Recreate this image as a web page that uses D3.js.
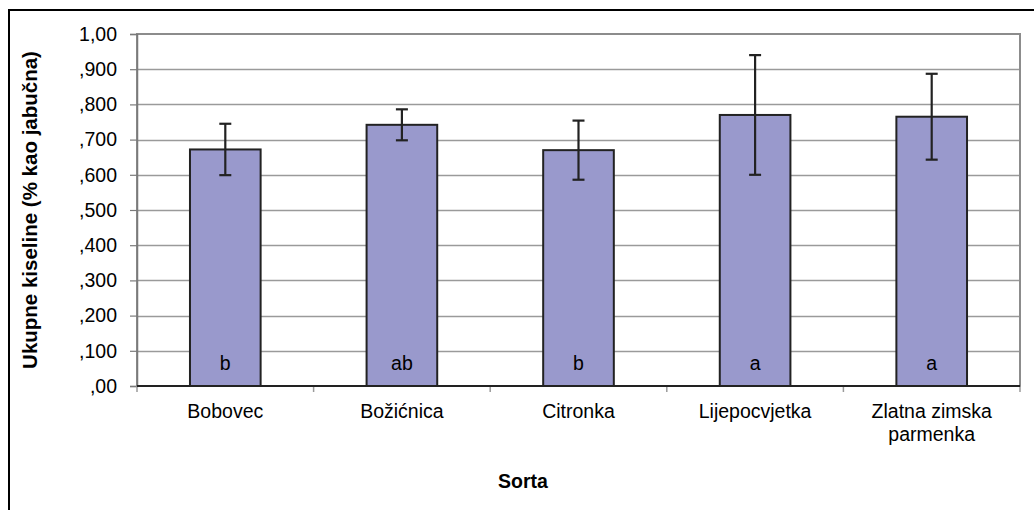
<!DOCTYPE html>
<html>
<head>
<meta charset="utf-8">
<script src="https://cdn.jsdelivr.net/npm/d3@7"></script>
<style>
  html, body { margin: 0; padding: 0; background: #fff; }
  svg { display: block; font-family: Arial, "Liberation Sans", sans-serif; }
</style>
</head>
<body>
<svg id="chart" width="1034" height="510"></svg>
<script>
// Ukupne kiseline po sortama jabuka
const categories = ["Bobovec", "Božićnica", "Citronka", "Lijepocvjetka", "Zlatna zimska parmenka"];
const means = [0.672, 0.742, 0.670, 0.770, 0.765];
const errors = [0.073, 0.044, 0.084, 0.170, 0.122];
const groups = ["b", "ab", "b", "a", "a"];
const yTicks = [0, 0.1, 0.2, 0.3, 0.4, 0.5, 0.6, 0.7, 0.8, 0.9, 1.0];
const yTickLabels = [",00", ",100", ",200", ",300", ",400", ",500", ",600", ",700", ",800", ",900", "1,00"];

const FONT = 19.5;
const svg = d3.select("#chart");
const plot = { left: 137, right: 1020, top: 34, bottom: 386 };

const x = d3.scaleBand().domain(categories).range([plot.left, plot.right]).paddingInner(0.6).paddingOuter(0.3);
const xCat = d3.scaleBand().domain(categories).range([plot.left, plot.right]);
const y = d3.scaleLinear().domain([0, 1]).range([plot.bottom, plot.top]);

// outer chart frame (runs off the right and bottom edge)
svg.append("path")
  .attr("d", `M9,${512} V10 H1040`)
  .attr("fill", "none").attr("stroke", "#000").attr("stroke-width", 2);

// horizontal gridlines
svg.append("g").selectAll("line")
  .data(yTicks.filter(d => d > 0 && d < 1))
  .join("line")
  .attr("x1", plot.left).attr("x2", plot.right)
  .attr("y1", d => Math.round(y(d)) + 0.5).attr("y2", d => Math.round(y(d)) + 0.5)
  .attr("stroke", "#9a9a9a").attr("stroke-width", 1.3);

// plot area border
svg.append("rect")
  .attr("x", plot.left).attr("y", plot.top)
  .attr("width", plot.right - plot.left).attr("height", plot.bottom - plot.top)
  .attr("fill", "none").attr("stroke", "#8c8c8c").attr("stroke-width", 2);

// y axis
const yAxis = d3.axisLeft(y)
  .tickValues(yTicks)
  .tickFormat((d, i) => yTickLabels[i])
  .tickSize(7).tickPadding(13);
const gy = svg.append("g").attr("transform", `translate(${plot.left},0)`).call(yAxis);
gy.select(".domain").attr("stroke", "#7a7a7a").attr("stroke-width", 1.5);
gy.selectAll(".tick line").attr("stroke", "#7a7a7a").attr("stroke-width", 1.2);
gy.selectAll(".tick text").attr("font-size", FONT).attr("fill", "#000").attr("font-family", "Arial, 'Liberation Sans', sans-serif");

// x axis category boundaries
const boundaries = categories.map(c => xCat(c)).concat([plot.right]);
svg.append("g").selectAll("line")
  .data(boundaries).join("line")
  .attr("x1", d => d).attr("x2", d => d)
  .attr("y1", plot.bottom).attr("y2", plot.bottom + 6)
  .attr("stroke", "#9a9a9a").attr("stroke-width", 1.5);

// bars
svg.append("g").selectAll("rect")
  .data(categories).join("rect")
  .attr("x", d => x(d))
  .attr("y", (d, i) => y(means[i]))
  .attr("width", x.bandwidth())
  .attr("height", (d, i) => y(0) - y(means[i]))
  .attr("fill", "#9999cc")
  .attr("stroke", "#222").attr("stroke-width", 2);

// x axis baseline
svg.append("line")
  .attr("x1", plot.left).attr("x2", plot.right)
  .attr("y1", plot.bottom).attr("y2", plot.bottom)
  .attr("stroke", "#222").attr("stroke-width", 2);

// error bars
const eb = svg.append("g").attr("stroke", "#222").attr("stroke-width", 2.2);
categories.forEach((c, i) => {
  const cx = x(c) + x.bandwidth() / 2;
  const hi = y(means[i] + errors[i]), lo = y(means[i] - errors[i]);
  eb.append("line").attr("x1", cx).attr("x2", cx).attr("y1", hi).attr("y2", lo);
  eb.append("line").attr("x1", cx - 6).attr("x2", cx + 6).attr("y1", hi).attr("y2", hi);
  eb.append("line").attr("x1", cx - 6).attr("x2", cx + 6).attr("y1", lo).attr("y2", lo);
});

// significance letters
svg.append("g").selectAll("text")
  .data(categories).join("text")
  .attr("x", d => x(d) + x.bandwidth() / 2)
  .attr("y", 370)
  .attr("text-anchor", "middle")
  .attr("font-size", FONT)
  .text((d, i) => groups[i]);

// category labels (wrapped)
const wrapLines = { "Zlatna zimska parmenka": ["Zlatna zimska", "parmenka"] };
const xl = svg.append("g");
categories.forEach(c => {
  const lines = wrapLines[c] || [c];
  const t = xl.append("text")
    .attr("x", x(c) + x.bandwidth() / 2)
    .attr("y", 418)
    .attr("text-anchor", "middle")
    .attr("font-size", FONT);
  lines.forEach((l, k) => {
    t.append("tspan").attr("x", x(c) + x.bandwidth() / 2).attr("dy", k === 0 ? 0 : 23).text(l);
  });
});

// axis titles
svg.append("text")
  .attr("x", 523).attr("y", 488)
  .attr("text-anchor", "middle")
  .attr("font-size", FONT).attr("font-weight", "bold")
  .text("Sorta");

svg.append("text")
  .attr("transform", `translate(37,${(plot.top + plot.bottom) / 2}) rotate(-90)`)
  .attr("text-anchor", "middle")
  .attr("font-size", 20.5).attr("font-weight", "bold")
  .text("Ukupne kiseline (% kao jabučna)");
</script>
</body>
</html>
